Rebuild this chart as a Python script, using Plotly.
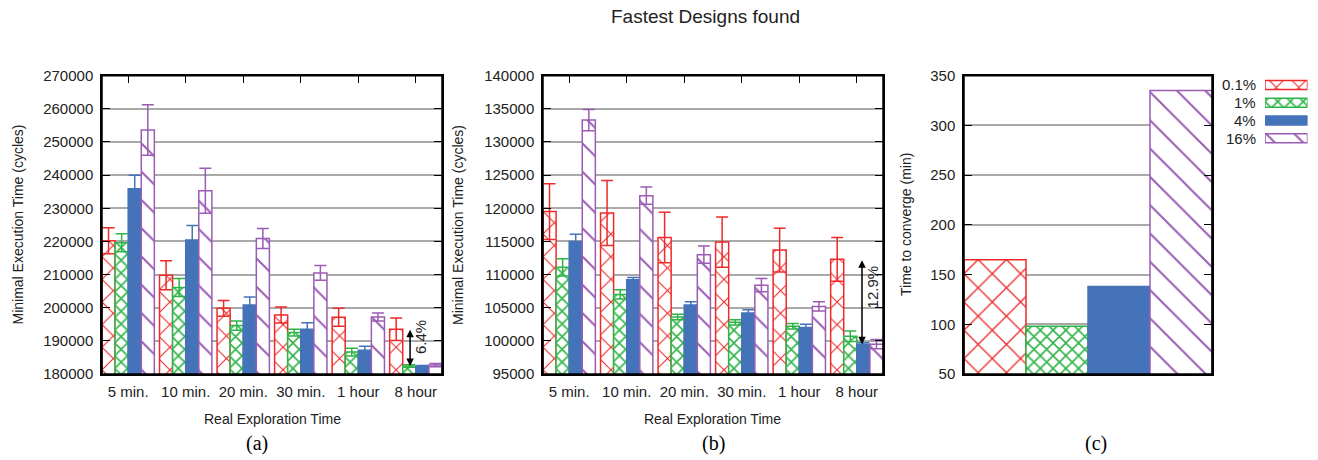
import plotly.graph_objects as go

# ---------------- data ----------------
categories = ["5 min.", "10 min.", "20 min.", "30 min.", "1 hour", "8 hour"]
series_names = ["0.1%", "1%", "4%", "16%"]

# Panel (a)
a_p01 = [220200, 209800, 199800, 197800, 197100, 193500]
a_p01_err = [3900, 4400, 2400, 2400, 2700, 3400]
a_p1 = [219600, 206100, 194600, 192500, 186600, 182400]
a_p1_err = [2700, 2700, 1400, 1000, 1200, 400]
a_p4 = [235900, 220400, 200800, 193500, 187200, 182300]
a_p4_err = [4100, 4400, 2400, 2000, 1200, 300]
a_p16 = [253600, 235300, 220900, 210500, 197200, 182700]
a_p16_err = [7600, 6800, 3000, 2200, 1200, 500]

# Panel (b)
b_p01 = [119500, 119300, 115600, 114900, 113700, 112300]
b_p01_err = [4200, 4900, 3800, 3800, 3300, 3300]
b_p1 = [111100, 107000, 103600, 102800, 102200, 100700]
b_p1_err = [1300, 700, 400, 400, 400, 800]
b_p4 = [115000, 109200, 105400, 104200, 102000, 99500]
b_p4_err = [1100, 350, 500, 500, 500, 200]
b_p16 = [133300, 121900, 113000, 108400, 105200, 99500]
b_p16_err = [1600, 1300, 1300, 1000, 700, 700]

# Panel (c): time to converge (min)
c_values = [165, 98, 138, 335]

a_ticks = [180000, 190000, 200000, 210000, 220000, 230000, 240000, 250000, 260000, 270000]
b_ticks = [95000, 100000, 105000, 110000, 115000, 120000, 125000, 130000, 135000, 140000]
c_ticks = [50, 100, 150, 200, 250, 300, 350]

# ---------------- styles ----------------
RED = "#ee2a2a"
GREEN = "#2fb347"
BLUE = "#4573b9"
PURPLE = "#9a5cb4"
colors = [RED, GREEN, BLUE, PURPLE]
FONT = "Liberation Sans, Arial, Helvetica, sans-serif"
TXT = "#222222"


def pattern(i, big=False):
    if i == 0:
        return dict(shape="x", fgcolor=RED, bgcolor="white", size=16 if not big else 20,
                    solidity=0.13, fillmode="replace")
    if i == 1:
        return dict(shape="x", fgcolor=GREEN, bgcolor="white", size=9,
                    solidity=0.32, fillmode="replace")
    if i == 2:
        return None
    return dict(shape="\\", fgcolor=PURPLE, bgcolor="white", size=20,
                solidity=0.1, fillmode="replace")


def make_marker(i, big=False):
    p = pattern(i, big)
    if p is None:
        return dict(color=BLUE, line=dict(color=BLUE, width=1.5))
    return dict(color="white", pattern=p, line=dict(color=colors[i], width=1.5))


fig = go.Figure()

panels = [
    ("x", "y", [a_p01, a_p1, a_p4, a_p16], [a_p01_err, a_p1_err, a_p4_err, a_p16_err]),
    ("x2", "y2", [b_p01, b_p1, b_p4, b_p16], [b_p01_err, b_p1_err, b_p4_err, b_p16_err]),
]
for xa, ya, vals, errs in panels:
    for i in range(4):
        fig.add_trace(go.Bar(
            x=categories, y=vals[i], name=series_names[i], xaxis=xa, yaxis=ya,
            marker=make_marker(i),
            error_y=dict(type="data", array=errs[i], visible=True, color=colors[i],
                         thickness=1.5, width=6),
            showlegend=False, hoverinfo="skip",
        ))

# panel (c)
for i in range(4):
    fig.add_trace(go.Bar(
        x=[i], y=[c_values[i]], xaxis="x3", yaxis="y3", width=1, offset=-0.5,
        marker=make_marker(i, big=True), showlegend=False, hoverinfo="skip",
    ))

# legend swatches (own tiny axes)
for i in range(4):
    fig.add_trace(go.Bar(
        x=[1], y=[i], orientation="h", xaxis="x4", yaxis="y4", width=0.5, offset=-0.25,
        marker=make_marker(i), showlegend=False, hoverinfo="skip",
    ))

W, H = 1318, 460


def px(x):
    return x / W


def py(y):
    return 1 - y / H


ydom = [py(374), py(75.7)]
axis_common = dict(
    showline=True, linecolor="black", linewidth=1.5, mirror="ticks",
    tickfont=dict(family=FONT, size=15, color=TXT), automargin=False,
)
yaxis_common = dict(
    axis_common, ticks="inside", ticklen=8, tickwidth=1.3, tickcolor="black",
    showgrid=True, gridcolor="#a9a9a9", gridwidth=1.5, zeroline=False,
    ticklabelstandoff=4,
)
xaxis_common = dict(
    axis_common, type="category", ticks="inside", ticklen=8, tickwidth=1.3,
    tickcolor="black", showgrid=False, layer="below traces", range=[-0.455, 5.455],
    ticklabelstandoff=3,
)

fig.update_layout(
    width=W, height=H, margin=dict(l=0, r=0, t=0, b=0, autoexpand=False),
    plot_bgcolor="white", paper_bgcolor="white",
    barmode="group", bargap=0.09, bargroupgap=0,
    xaxis=dict(xaxis_common, domain=[px(102), px(442)], anchor="y"),
    yaxis=dict(yaxis_common, domain=ydom, anchor="x", range=[180000, 270000],
               tickvals=a_ticks, ticktext=[str(v) for v in a_ticks]),
    xaxis2=dict(xaxis_common, domain=[px(543), px(883)], anchor="y2"),
    yaxis2=dict(yaxis_common, domain=ydom, anchor="x2", range=[95000, 140000],
                tickvals=b_ticks, ticktext=[str(v) for v in b_ticks]),
    xaxis3=dict(domain=[px(964), px(1212)], anchor="y3", range=[-0.5, 3.5],
                showline=True, linecolor="black", linewidth=1.5, mirror=True,
                showticklabels=False, ticks="", showgrid=False, zeroline=False),
    yaxis3=dict(yaxis_common, domain=ydom, anchor="x3", range=[50, 350],
                tickvals=c_ticks, ticktext=[str(v) for v in c_ticks]),
    xaxis4=dict(domain=[px(1265), px(1307.5)], anchor="y4", range=[0, 1],
                visible=False, fixedrange=True),
    yaxis4=dict(domain=[py(147.2), py(76.1)], anchor="x4", range=[3.5, -0.5],
                visible=False, fixedrange=True),
    font=dict(family=FONT, color=TXT),
)

ann = []


def paper_text(text, x, y, size, angle=0, family=FONT, color=TXT, xanchor="center"):
    return dict(text=text, x=px(x), y=py(y), xref="paper", yref="paper", textangle=angle,
                xanchor=xanchor, yanchor="middle", showarrow=False,
                font=dict(size=size, family=family, color=color))


# title
ann.append(paper_text("Fastest Designs found", 705, 16, 19))
# y axis titles
for xc, t in [(17.5, "Minimal Execution Time (cycles)"), (458, "Minimal Execution Time (cycles)"),
              (906, "Time to converge (min)")]:
    ann.append(paper_text(t, xc, 225, 14, angle=-90))
# x axis titles
for xc in [272, 713]:
    ann.append(paper_text("Real Exploration Time", xc, 419, 14))
# sub-captions
for xc, t in [(257, "(a)"), (714, "(b)"), (1096, "(c)")]:
    ann.append(paper_text(t, xc, 443, 20, family="Liberation Serif, Times New Roman, serif",
                          color="black"))
# legend labels
for i, name in enumerate(series_names):
    ann.append(dict(text=name, x=px(1258), y=i, xref="paper", yref="y4", xanchor="right",
                    yanchor="middle", showarrow=False, font=dict(size=15, family=FONT, color=TXT)))
# difference arrows
ann.append(dict(x=4.9, y=a_p1[5], ax=4.9, ay=a_p01[5] + 300, xref="x", yref="y", axref="x", ayref="y",
                text="", showarrow=True, arrowhead=2, startarrowhead=2, arrowside="end+start",
                arrowwidth=1.5, arrowsize=1, startarrowsize=1, arrowcolor="black"))
ann.append(dict(x=5.08, y=191300, xref="x", yref="y", text="6.4%", textangle=-90, showarrow=False,
                xanchor="center", yanchor="middle", font=dict(size=15, family=FONT, color=TXT)))
ann.append(dict(x=5.09, y=b_p4[5], ax=5.09, ay=b_p01[5] + 100, xref="x2", yref="y2", axref="x2", ayref="y2",
                text="", showarrow=True, arrowhead=2, startarrowhead=2, arrowside="end+start",
                arrowwidth=1.5, arrowsize=1, startarrowsize=1, arrowcolor="black"))
ann.append(dict(x=5.28, y=108200, xref="x2", yref="y2", text="12.9%", textangle=-90, showarrow=False,
                xanchor="center", yanchor="middle", font=dict(size=15, family=FONT, color=TXT)))
fig.update_layout(annotations=ann)

# plot borders drawn above bars
for xr, yr in [("x", "y"), ("x2", "y2"), ("x3", "y3")]:
    fig.add_shape(type="rect", xref=f"{xr} domain", yref=f"{yr} domain", x0=0, x1=1, y0=0, y1=1,
                  line=dict(color="black", width=1.5), fillcolor="rgba(0,0,0,0)", layer="above")

fig.write_html(
    "out.html",
    config={"displayModeBar": False},
    post_script="document.body.style.margin='0px';document.body.style.overflow='hidden';",
)
